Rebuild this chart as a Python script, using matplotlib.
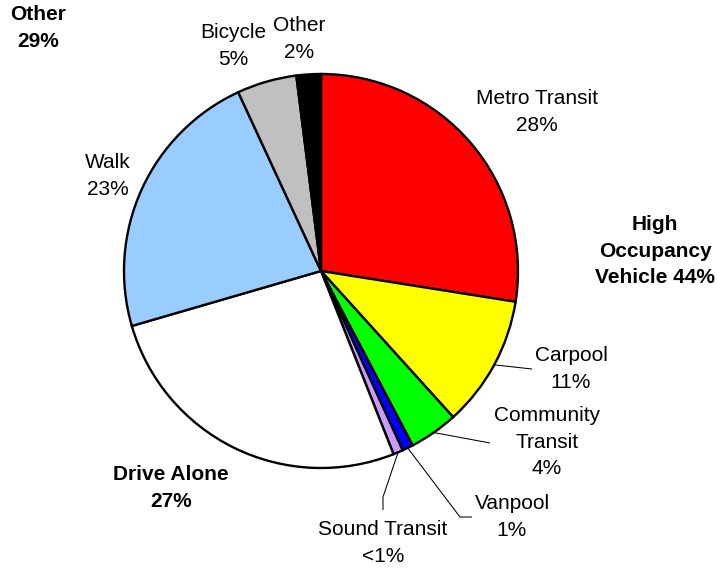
import numpy as np
import matplotlib
matplotlib.use("Agg")
import matplotlib.pyplot as plt

plt.rcParams['font.family'] = ['Liberation Sans', 'DejaVu Sans']

categories = ["Metro Transit", "Carpool", "Community Transit", "Vanpool",
              "Sound Transit", "Drive Alone", "Walk", "Bicycle", "Other"]
values = [27.5, 10.8, 4.0, 0.9, 0.8, 26.5, 22.6, 4.9, 2.0]
slice_labels = ["Metro Transit\n28%", "Carpool\n11%", "Community\nTransit\n4%",
                "Vanpool\n1%", "Sound Transit\n<1%", "", "Walk\n23%",
                "Bicycle\n5%", "Other\n2%"]
colors = ["#FF0000", "#FFFF00", "#00FF00", "#0000FF", "#CC99FF",
          "#FFFFFF", "#99CCFF", "#C0C0C0", "#000000"]
group_labels = ["Other\n29%", "High\nOccupancy\nVehicle 44%", "Drive Alone\n27%"]

W, H = 717, 569
fig = plt.figure(figsize=(W / 100, H / 100), dpi=100)
ax = fig.add_axes([0, 0, 1, 1])

cx, cy, R = 321, H - 271, 197
wedges, _ = ax.pie(values, colors=colors, startangle=90, counterclock=False,
                   center=(cx, cy), radius=R, frame=True,
                   wedgeprops=dict(edgecolor='black', linewidth=1.7))
ax.set_xlim(0, W)
ax.set_ylim(0, H)
ax.set_aspect('equal')
ax.axis('off')

fs = 15
ls = 1.48
# label positions (pixel coords from top)
label_pos = {
    "Metro Transit": (537, 112),
    "Carpool": (571, 369),
    "Community Transit": (547, 442),
    "Vanpool": (512, 517),
    "Sound Transit": (383, 543),
    "Walk": (108, 176),
    "Bicycle": (233, 46),
    "Other": (299, 39),
}
for cat, lab in zip(categories, slice_labels):
    if cat in label_pos and lab:
        x, y = label_pos[cat]
        ax.text(x, H - y, lab, ha='center', va='center', fontsize=fs,
                linespacing=ls)

group_pos = [(38, 28), (655, 251), (171, 488)]
for lab, (x, y) in zip(group_labels, group_pos):
    ax.text(x, H - y, lab, ha='center', va='center', fontsize=fs,
            fontweight='bold', linespacing=ls)

# leader lines
def edge_point(w, frac=0.5):
    ang = np.deg2rad(w.theta1 + (w.theta2 - w.theta1) * frac)
    return cx + R * np.cos(ang), cy + R * np.sin(ang)

leaders = {
    "Carpool": [(532, 369)],
    "Community Transit": [(490, 443)],
    "Vanpool": [(460, 517), (472, 517)],
    "Sound Transit": [(383, 497), (383, 510)],
}
for i, cat in enumerate(categories):
    if cat in leaders:
        x0, y0 = edge_point(wedges[i])
        pts = [(x0, y0)] + [(x, H - y) for x, y in leaders[cat]]
        xs, ys = zip(*pts)
        ax.plot(xs, ys, color='black', linewidth=0.75, solid_capstyle='butt')

fig.savefig("out.png", dpi=100, facecolor='white')
